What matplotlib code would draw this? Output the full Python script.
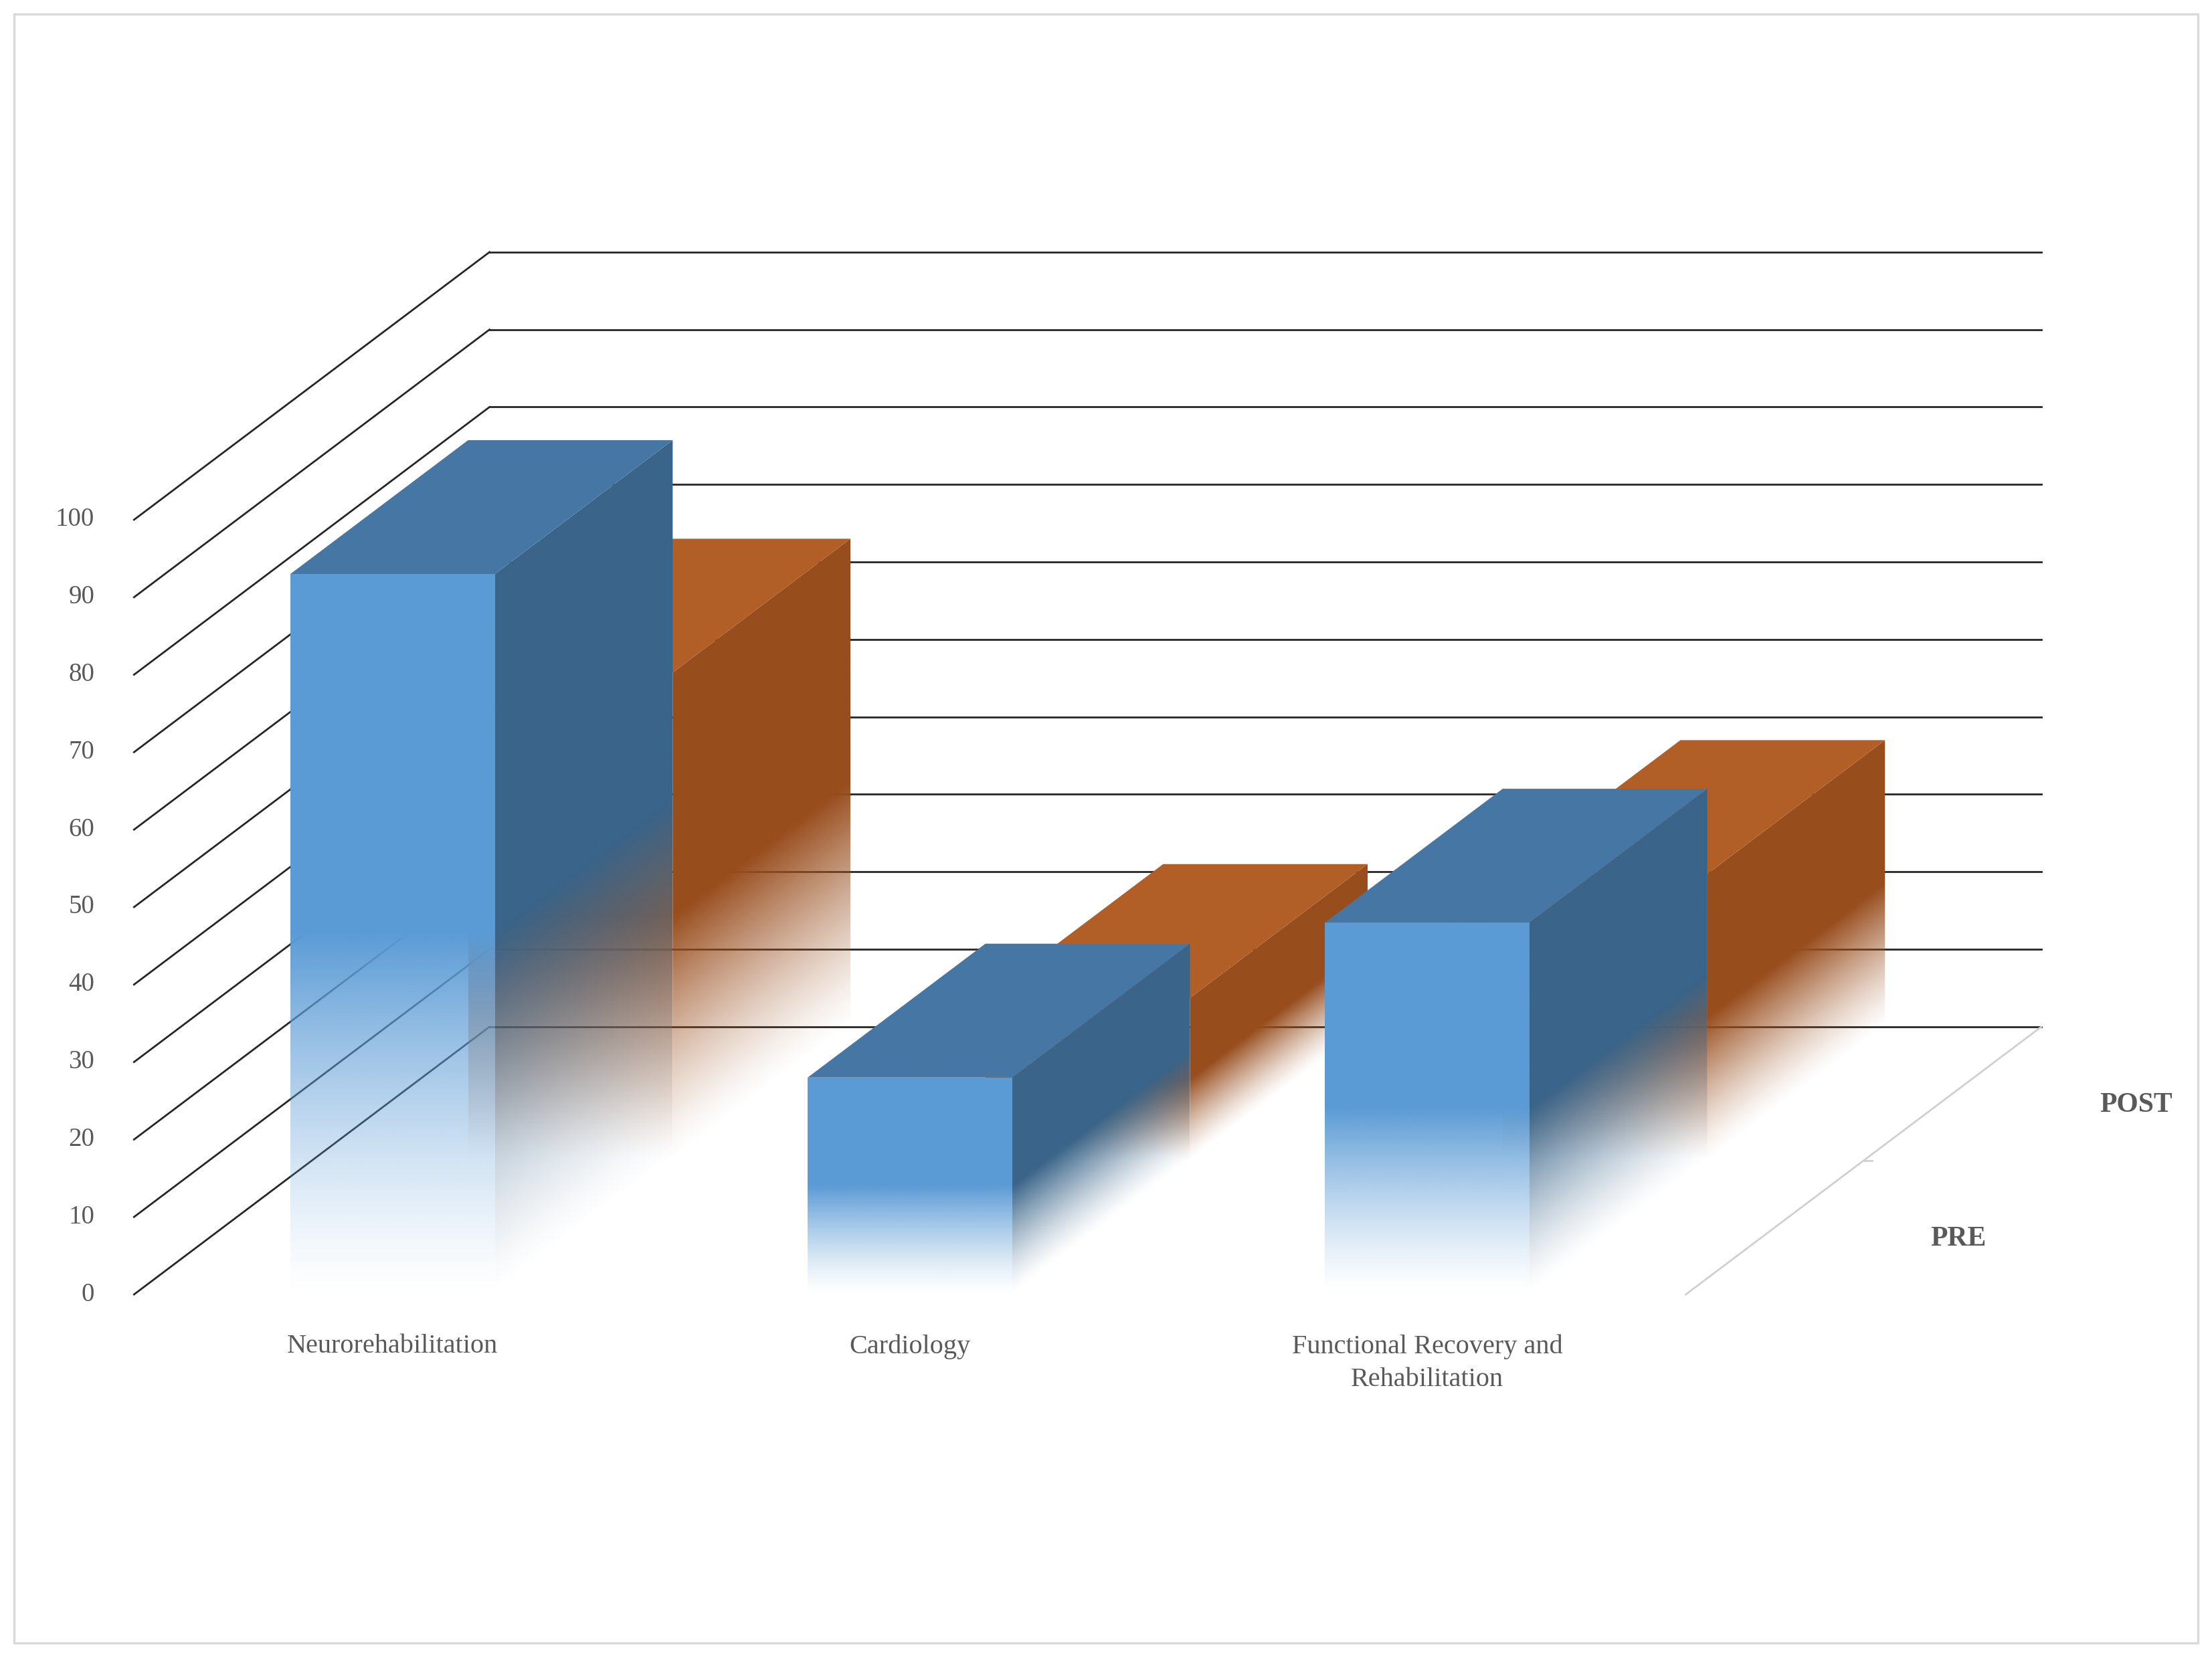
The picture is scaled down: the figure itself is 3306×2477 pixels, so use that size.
"""3D-style clustered bar chart (PRE / POST by department), drawn with an oblique projection."""

import matplotlib

matplotlib.use("Agg")
import matplotlib.pyplot as plt
import numpy as np
from matplotlib.patches import Polygon, Rectangle

CATEGORIES = ["Neurorehabilitation", "Cardiology", "Functional Recovery and\nRehabilitation"]
SERIES = ["PRE", "POST"]
PRE = [93, 28, 48]
POST = [63, 21, 37]
Y_TICKS = list(range(0, 101, 10))

# projection (reference pixel space, 1568 x 1170)
X0, Y0 = 95, 914          # front-left floor corner
K = 5.47                  # px per value unit
DX, DY = 252, -189        # full depth vector
FRONT_W = 1100
BAR_W = 145

FACES = {
    "PRE": ("#5B9BD5", "#4677A4", "#3A6489"),
    "POST": ("#C55A11", "#B25E27", "#984D1D"),
}
GRID = "#262626"
TEXT = "#595959"
FONT = ["Liberation Serif", "DejaVu Serif"]


def P(x, d, v):
    return (x + d * DX, Y0 + d * DY - v * K)


fig = plt.figure(figsize=(16.53, 12.385), dpi=200)
ax = fig.add_axes([0, 0, 1, 1])
ax.set_xlim(0, 1568)
ax.set_ylim(1170, 0)
ax.axis("off")
ax.add_patch(Rectangle((10, 10), 1548, 1150, fill=False, ec="#d9d9d9", lw=1.2))

# walls
for v in Y_TICKS:
    a, b = P(X0, 0, v), P(X0, 1, v)
    ax.plot([a[0], b[0]], [a[1], b[1]], color=GRID, lw=1.0, zorder=1)
    c = P(X0 + FRONT_W, 1, v)
    ax.plot([b[0], c[0]], [b[1], c[1]], color=GRID, lw=1.0, zorder=1)
    ax.text(67, a[1], str(v), ha="right", va="center", fontsize=14, color=TEXT, family=FONT)

# floor lines between rows
for d in (0.5,):
    a, b = P(X0, d, 0), P(X0 + FRONT_W, d, 0)
for i in range(1, 3):
    x = X0 + i * FRONT_W / 3 - 0
a, b = P(X0 + FRONT_W, 0, 0), P(X0 + FRONT_W, 1, 0)
ax.plot([a[0], b[0]], [a[1], b[1]], color="#d0d0d0", lw=1.0, zorder=1)
m0, m1 = P(X0 + FRONT_W, 0.5, 0), P(X0 + FRONT_W + 6, 0.5, 0)
ax.plot([m0[0], m1[0]], [m0[1], m1[1]], color="#d0d0d0", lw=1.0, zorder=1)
for k, s in enumerate(SERIES):
    px, py = P(X0 + FRONT_W + 130, 0.25 + 0.5 * k, 0)
    ax.text(px, py + 8, s, ha="center", va="center", fontsize=15, fontweight="bold",
            color=TEXT, family=FONT)


def shaded(poly, color, valfunc, val, z):
    pts = np.array(poly)
    x0, x1 = pts[:, 0].min(), pts[:, 0].max()
    y0, y1 = pts[:, 1].min(), pts[:, 1].max()
    xs = np.linspace(x0, x1, 120)
    ys = np.linspace(y0, y1, 300)
    X, Y = np.meshgrid(xs, ys)
    v = valfunc(X, Y)
    alpha = np.clip(v / (0.5 * val), 0, 1) ** 1.3
    rgba = np.zeros(X.shape + (4,))
    rgba[..., :3] = matplotlib.colors.to_rgb(color)
    rgba[..., 3] = alpha
    im = ax.imshow(rgba, extent=(x0, x1, y1, y0), origin="upper", zorder=z,
                   interpolation="bilinear", aspect="auto")
    patch = Polygon(poly, closed=True, fc="none", ec="none", zorder=z)
    ax.add_patch(patch)
    im.set_clip_path(patch)


cat_w = FRONT_W / 3
for k, (s, vals) in reversed(list(enumerate(zip(SERIES, [PRE, POST])))):
    front, top, side = FACES[s]
    d0, d1 = 0.5 * k, 0.5 * k + 0.5
    for i, v in enumerate(vals):
        xl = X0 + cat_w * (i + 0.5) - BAR_W / 2
        xr = xl + BAR_W
        z = 2 + (1 - k) * 3
        fpoly = [P(xl, d0, 0), P(xr, d0, 0), P(xr, d0, v), P(xl, d0, v)]
        shaded(fpoly, front, lambda X, Y, d=d0: (Y0 + d * DY - Y) / K, v, z)
        spoly = [P(xr, d0, 0), P(xr, d1, 0), P(xr, d1, v), P(xr, d0, v)]

        def side_val(X, Y, xr=xr, d0=d0):
            d = d0 + (X - (xr + d0 * DX)) / DX
            return (Y0 + d * DY - Y) / K

        shaded(spoly, side, side_val, v, z)
        tpoly = [P(xl, d0, v), P(xr, d0, v), P(xr, d1, v), P(xl, d1, v)]
        ax.add_patch(Polygon(tpoly, closed=True, fc=top, ec="none", zorder=z + 0.5))

for i, c in enumerate(CATEGORIES):
    ax.text(X0 + cat_w * (i + 0.5), 942, c, ha="center", va="top", fontsize=14.5,
            color=TEXT, family=FONT, linespacing=1.45)

fig.savefig("out.png", dpi=200)
